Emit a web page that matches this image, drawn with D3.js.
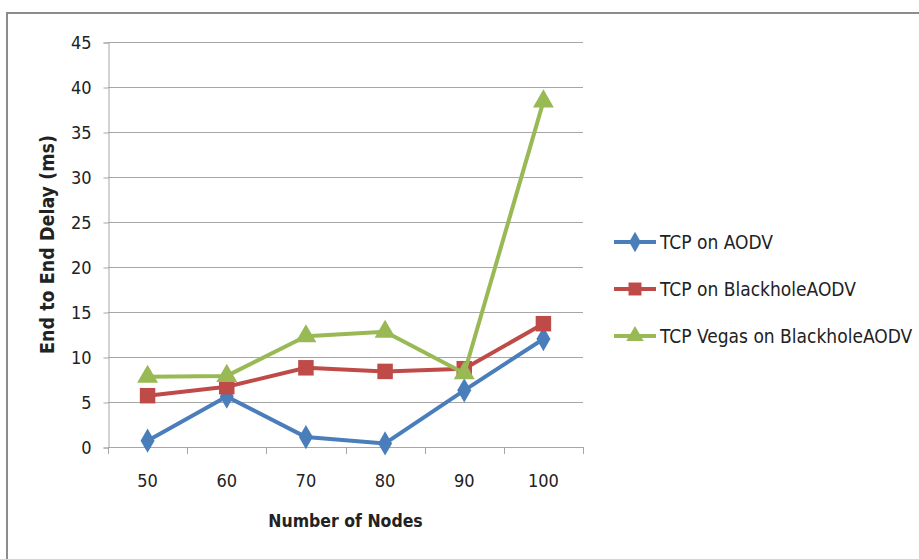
<!DOCTYPE html>
<html lang="en">
  <head>
    <meta charset="utf-8" />
    <title>End to End Delay</title>
    <script src="https://cdnjs.cloudflare.com/ajax/libs/d3/7.8.5/d3.min.js"></script>
    <style type="text/css">
      body { margin: 0; background: #fff; }
      text { font-family: "DejaVu Sans Condensed", "Liberation Sans Narrow", "Open Sans", sans-serif; fill: #222; }
      .grid line { stroke: #a6a6a6; }
    </style>
  </head>
  <body>
    <div id="chart"></div>
    <script>
      // Data
      const nodes = ['50', '60', '70', '80', '90', '100'];
      const yTicks = [0, 5, 10, 15, 20, 25, 30, 35, 40, 45];
      const seriesNames = ['TCP on AODV', 'TCP on BlackholeAODV', 'TCP Vegas on BlackholeAODV'];
      const aodv = [0.7, 5.6, 1.1, 0.4, 6.3, 12.0];
      const blackhole = [5.7, 6.7, 8.8, 8.4, 8.7, 13.7];
      const vegas = [7.8, 7.9, 12.3, 12.8, 8.2, 38.4];

      const series = [
        { name: seriesNames[0], values: aodv, color: '#4a7ebb', symbol: d3.symbolDiamond, size: 170 },
        { name: seriesNames[1], values: blackhole, color: '#be4b48', symbol: d3.symbolSquare, size: 240 },
        { name: seriesNames[2], values: vegas, color: '#98b954', symbol: d3.symbolTriangle, size: 190 }
      ];

      const font = '"DejaVu Sans Condensed", "Liberation Sans Narrow", "Open Sans", sans-serif';
      const width = 919;
      const height = 559;
      const margin = { top: 42, left: 108, right: 336, bottom: 112 };

      const svg = d3.select('#chart').append('svg')
        .attr('width', width)
        .attr('height', height);

      // outer frame (top and left edges visible)
      svg.append('path')
        .attr('d', `M7,${height} L7,13 L${width},13`)
        .attr('fill', 'none')
        .attr('stroke', '#8c8c8c')
        .attr('stroke-width', 2);

      const x = d3.scaleBand().domain(nodes).range([margin.left, width - margin.right]);
      const y = d3.scaleLinear().domain([0, 45]).range([height - margin.bottom, margin.top]);

      // gridlines
      svg.append('g')
        .attr('class', 'grid')
        .selectAll('line')
        .data(yTicks.filter(d => d > 0))
        .join('line')
        .attr('x1', margin.left)
        .attr('x2', width - margin.right)
        .attr('y1', d => Math.round(y(d)) + 0.5)
        .attr('y2', d => Math.round(y(d)) + 0.5);

      // y axis
      const yAxis = svg.append('g')
        .attr('transform', `translate(${margin.left + 0.5},0.5)`)
        .call(d3.axisLeft(y).tickValues(yTicks).tickSize(5).tickPadding(12));
      yAxis.select('.domain').attr('stroke', '#a6a6a6');
      yAxis.selectAll('.tick line').attr('stroke', '#a6a6a6');
      yAxis.selectAll('text').attr('font-size', 18).attr('fill', '#222')
        .attr('font-family', font);

      // x axis with ticks on category boundaries
      const xAxisY = y(0);
      const xg = svg.append('g');
      xg.append('line')
        .attr('x1', margin.left).attr('x2', width - margin.right)
        .attr('y1', xAxisY + 0.5).attr('y2', xAxisY + 0.5)
        .attr('stroke', '#a6a6a6');
      const bounds = nodes.map(d => x(d)).concat([x(nodes[nodes.length - 1]) + x.bandwidth()]);
      xg.selectAll('line.tk')
        .data(bounds)
        .join('line')
        .attr('class', 'tk')
        .attr('x1', d => Math.round(d) + 0.5).attr('x2', d => Math.round(d) + 0.5)
        .attr('y1', xAxisY).attr('y2', xAxisY + 7)
        .attr('stroke', '#a6a6a6');
      xg.selectAll('text')
        .data(nodes)
        .join('text')
        .attr('x', d => x(d) + x.bandwidth() / 2)
        .attr('y', xAxisY + 40)
        .attr('text-anchor', 'middle')
        .attr('font-size', 18)
        .text(d => d);

      // axis titles
      svg.append('text')
        .attr('x', (margin.left + width - margin.right) / 2)
        .attr('y', 527)
        .attr('text-anchor', 'middle')
        .attr('font-size', 17.5)
        .attr('font-weight', 'bold')
        .text('Number of Nodes');

      svg.append('text')
        .attr('transform', `translate(54,${(margin.top + height - margin.bottom) / 2}) rotate(-90)`)
        .attr('text-anchor', 'middle')
        .attr('font-size', 19.5)
        .attr('font-weight', 'bold')
        .text('End to End Delay (ms)');

      // lines and markers
      const line = d3.line()
        .x((d, i) => x(nodes[i]) + x.bandwidth() / 2)
        .y(d => y(d));

      series.forEach(s => {
        const g = svg.append('g');
        g.append('path')
          .datum(s.values)
          .attr('fill', 'none')
          .attr('stroke', s.color)
          .attr('stroke-width', 4)
          .attr('stroke-linejoin', 'round')
          .attr('d', line);
        g.selectAll('path.mk')
          .data(s.values)
          .join('path')
          .attr('class', 'mk')
          .attr('transform', (d, i) => `translate(${x(nodes[i]) + x.bandwidth() / 2},${y(d)})`)
          .attr('d', d3.symbol(s.symbol, s.size))
          .attr('fill', s.color);
      });

      // legend
      const legend = svg.append('g').attr('transform', 'translate(614,242)');
      series.forEach((s, i) => {
        const row = legend.append('g').attr('transform', `translate(0,${i * 47})`);
        row.append('line')
          .attr('x1', 0).attr('x2', 42)
          .attr('stroke', s.color)
          .attr('stroke-width', 4);
        row.append('path')
          .attr('transform', 'translate(21,0)')
          .attr('d', d3.symbol(s.symbol, s.size * 0.7))
          .attr('fill', s.color);
        row.append('text')
          .attr('x', 46)
          .attr('y', 7)
          .attr('font-size', 19)
          .text(s.name);
      });
    </script>
  </body>
</html>
